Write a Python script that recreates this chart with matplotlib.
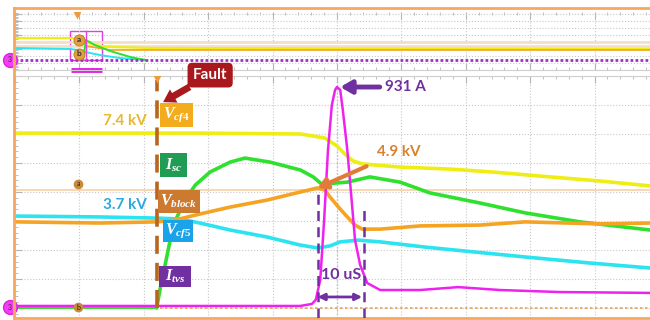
import matplotlib
matplotlib.use("Agg")
import matplotlib.pyplot as plt
from matplotlib.patches import Rectangle
from matplotlib.lines import Line2D
from matplotlib.ticker import MultipleLocator

# screen units: x and y in graticule divisions (main window, y=0 is the bottom line)
vcf4_x = [0, 1.32, 2.87, 4.43, 4.63, 4.81, 5.0, 5.12, 5.25, 5.39, 5.59, 5.98, 6.75, 7.41, 8.31, 9.08, 9.86]
vcf4_y = [6.03, 6.03, 6.03, 6.0, 5.93, 5.86, 5.59, 5.31, 5.07, 4.97, 4.93, 4.86, 4.79, 4.69, 4.52, 4.38, 4.21]

isc_x = [0, 2.18, 2.20, 2.25, 2.33, 2.41, 2.48, 2.64, 2.80, 3.03, 3.34, 3.57, 3.96, 4.43, 4.63, 4.78,
         4.97, 5.16, 5.51, 5.98, 6.44, 7.22, 7.92, 8.77, 9.86]
isc_y = [0.03, 0.03, 0.0, 0.62, 1.48, 2.34, 2.97, 3.72, 4.24, 4.69, 5.03, 5.17, 5.03, 4.76, 4.52, 4.24,
         4.31, 4.34, 4.52, 4.34, 3.97, 3.62, 3.28, 2.97, 2.69]

vblock_x = [0, 1.32, 2.20, 2.48, 2.87, 3.34, 3.91, 4.43, 4.70, 4.81, 4.89, 5.05, 5.16, 5.28, 5.39,
            5.67, 6.29, 7.22, 7.92, 9.08, 9.86]
vblock_y = [2.97, 2.93, 2.97, 3.03, 3.24, 3.48, 3.72, 4.0, 4.14, 4.07, 3.83, 3.41, 3.14, 2.86, 2.72,
            2.72, 2.83, 2.86, 2.97, 2.90, 2.93]

vcf5_x = [0, 1.32, 2.20, 2.56, 2.87, 3.34, 3.91, 4.43, 4.70, 4.89, 5.05, 5.33, 5.67, 6.37, 7.14, 7.92, 8.93, 9.86]
vcf5_y = [3.17, 3.14, 3.10, 3.07, 2.93, 2.69, 2.45, 2.17, 2.07, 2.14, 2.28, 2.34, 2.28, 2.10, 1.93, 1.76, 1.55, 1.38]

itvs_x = [0, 1.32, 2.87, 4.43, 4.61, 4.67, 4.74, 4.80, 4.86, 4.92, 4.97, 5.0, 5.05, 5.09, 5.16, 5.22,
          5.28, 5.36, 5.47, 5.67, 6.29, 6.88, 7.53, 8.46, 9.86]
itvs_y = [0.07, 0.07, 0.07, 0.07, 0.14, 0.28, 0.97, 3.03, 5.45, 7.0, 7.52, 7.62, 7.52, 6.83, 5.45, 3.90,
          2.34, 1.48, 0.86, 0.62, 0.62, 0.72, 0.62, 0.55, 0.52]

# overview (zoom-out) window, own division units
ov_yel_x = [0, 0.89, 1.01, 1.09, 1.24, 1.48, 2.10, 9.86]
ov_yel_y = [4.57, 4.57, 4.29, 4.0, 3.57, 3.29, 3.14, 3.0]
ov_cyan_x = [0, 0.85, 0.98, 1.09, 1.32, 1.63, 2.02]
ov_cyan_y = [3.14, 3.0, 2.86, 2.57, 2.14, 1.71, 1.43]
ov_green_x = [1.06, 1.10, 1.24, 1.48, 1.79, 2.02]
ov_green_y = [1.43, 4.29, 3.57, 2.71, 1.86, 1.43]
ov_orange_x = [1.10, 1.48, 9.86]
ov_orange_y = [3.43, 2.86, 2.86]

fault_x = 2.20
peak_x, peak_y = 5.0, 7.62
cross_x, cross_y = 4.70, 4.14
win_start, win_end = 4.70, 5.42

plt.rcParams['font.family'] = ['Lato', 'DejaVu Sans']
plt.rcParams['mathtext.fontset'] = 'custom'
plt.rcParams['mathtext.it'] = 'Liberation Serif:italic:bold'
plt.rcParams['mathtext.rm'] = 'Liberation Serif:bold'

ORANGE = '#F5A85E'
PURPLE = '#7030A0'
GRID = '#c8c8c8'

fig = plt.figure(figsize=(6.5, 3.2), dpi=100)
ax_ov = fig.add_axes([15/650, 1-70/320, 635/650, 58/320])
ax = fig.add_axes([15/650, 1-318/320, 635/650, 242/320])

# frame
fig.add_artist(Line2D([14/650, 14/650], [1-8/320, 1-318/320], color=ORANGE, lw=2))
fig.add_artist(Line2D([14/650, 1], [1-8/320, 1-8/320], color=ORANGE, lw=2))

for a in (ax, ax_ov):
    a.set_xlim(0, 9.86)
    a.xaxis.set_major_locator(MultipleLocator(1))
    a.xaxis.set_minor_locator(MultipleLocator(0.2))
    a.yaxis.set_major_locator(MultipleLocator(1))
    a.yaxis.set_minor_locator(MultipleLocator(0.2))
    a.tick_params(which='both', direction='in', top=True, bottom=True, left=True, right=False,
                  labelbottom=False, labelleft=False, color='#b5b5b5')
    a.tick_params(which='major', length=5, width=0.8)
    a.tick_params(which='minor', length=2.5, width=0.6)
    a.grid(True, which='major', ls=':', color=GRID, lw=0.8)
    a.spines['left'].set_visible(False)
    a.spines['right'].set_visible(False)
    a.set_facecolor('none')

ax.set_ylim(-0.345, 8.0)
ax.spines['top'].set_color('#cfcfcf')
ax.spines['top'].set_linewidth(0.8)
ax.spines['bottom'].set_color(ORANGE)
ax.spines['bottom'].set_linewidth(2)
ax.tick_params(which='both', bottom=False)

ax_ov.set_ylim(0, 8.29)
ax_ov.spines['top'].set_visible(False)
ax_ov.spines['bottom'].set_color('#cfcfcf')
ax_ov.spines['bottom'].set_linewidth(0.8)

# reference lines
ax.axvline(5, color='#bdbdbd', ls=':', lw=1)
ax.axhline(4.07, color='#F8CFA5', lw=1.2)
ax.axhline(0, color='#F0A050', ls=(0, (1.5, 1.5)), lw=1.2)

# traces
ax.plot(vcf4_x, vcf4_y, color='#EEEE14', lw=2.6, zorder=3)
ax.plot(isc_x, isc_y, color='#2FE02F', lw=2.6, zorder=3)
ax.plot(vcf5_x, vcf5_y, color='#2CE3F0', lw=2.6, zorder=3)
ax.plot(vblock_x, vblock_y, color='#F5A323', lw=2.6, zorder=3)
ax.plot(itvs_x, itvs_y, color='#EE22EE', lw=1.8, zorder=4)

# overview traces
ax_ov.axhline(4.0, color='#F2DFC6', lw=2)
ax_ov.axhline(3.43, color='#F2DFC6', lw=2)
ax_ov.plot(ov_yel_x, ov_yel_y, color='#EEEE14', lw=1.6)
ax_ov.plot(ov_orange_x, ov_orange_y, color='#F5A323', lw=1.2)
ax_ov.plot(ov_cyan_x, ov_cyan_y, color='#2CE3F0', lw=1.4)
ax_ov.plot(ov_green_x, ov_green_y, color='#2FE02F', lw=1.4)
ax_ov.axhline(1.43, color='#A030C8', ls=(0, (1, 0.8)), lw=2)
ax_ov.add_patch(Rectangle((0.85, 1.43), 0.5, 4.14, fill=False, ec='#E040E0', lw=1))
ax_ov.plot([1.10, 1.10], [1.43, 5.57], color='#E040E0', lw=1)
ax_ov.plot([0.87, 1.35], [0.05, 0.05], color='#E81CE8', lw=3.5, solid_capstyle='butt', clip_on=False)
ax_ov.plot(0.96, 7.86, 'v', ms=6, color='#F09A3A', mec='none')
for yy, lab in ((4.29, 'a'), (2.29, 'b')):
    ax_ov.plot(0.99, yy, 'o', ms=8, mfc='#E0A040', mec='#C07A20', mew=0.6, zorder=5)
    ax_ov.text(0.99, yy, lab, fontsize=6, ha='center', va='center', color='#333', fontweight='bold', zorder=6)
ax_ov.plot(-0.08, 1.43, 'o', ms=10, mfc='#F040F0', mec='#E020E0', clip_on=False, zorder=5)
ax_ov.text(-0.08, 1.43, '3', fontsize=5, ha='center', va='center', color='#333', zorder=6)

# main-window markers
for yy, lab in ((4.28, 'a'), (0.03, 'b')):
    ax.plot(0.98, yy, 'o', ms=7, mfc='#C98A3A', mec='none', zorder=5)
    ax.text(0.98, yy, lab, fontsize=5, ha='center', va='center', color='#222', zorder=6)
ax.plot(-0.08, 0.03, 'o', ms=10, mfc='#F040F0', mec='#E020E0', clip_on=False, zorder=5)
ax.text(-0.08, 0.03, '3', fontsize=5, ha='center', va='center', color='#333', zorder=6)

# fault line
ax.plot([fault_x, fault_x], [0, 7.86], color='#B8661E', lw=2.6, dashes=(5, 2.5), zorder=5)
ax.plot(fault_x, 7.9, 'v', ms=6, color='#F09A3A', mec='none', zorder=6)
ax.annotate('Fault', xy=(2.30, 7.10), xytext=(3.03, 8.03), fontsize=11, fontweight='bold',
            color='white', ha='center', va='center', annotation_clip=False, zorder=8,
            bbox=dict(boxstyle='round,pad=0.35,rounding_size=0.3', fc='#A8181C', ec='none'),
            arrowprops=dict(arrowstyle='simple,head_width=1.0,head_length=0.8,tail_width=0.45',
                            fc='#A8181C', ec='none', shrinkA=0, shrinkB=0))

# signal label boxes
boxes = [
    (r'$V_{cf4}$', 2.25, 6.24, 0.51, 0.83, '#F3AC1E'),
    (r'$I_{sc}$', 2.25, 4.52, 0.42, 0.83, '#1F9D55'),
    (r'$V_{block}$', 2.22, 3.28, 0.65, 0.79, '#CC7A30'),
    (r'$V_{cf5}$', 2.30, 2.28, 0.47, 0.76, '#1AA3E8'),
    (r'$I_{tvs}$', 2.24, 0.72, 0.50, 0.72, PURPLE),
]
for lab, x0, y0, w, h, c in boxes:
    ax.add_patch(Rectangle((x0, y0), w, h, fc=c, ec='none', zorder=7))
    ax.text(x0 + w/2, y0 + h/2, lab, color='white', fontsize=11.5, ha='center', va='center', zorder=8)

# value annotations
ax.text(2.05, 6.45, '7.4 kV', color='#E8B830', fontsize=11, fontweight='bold', ha='right', va='center', zorder=8)
ax.text(2.05, 3.55, '3.7 kV', color='#2BA8DF', fontsize=11, fontweight='bold', ha='right', va='center', zorder=8)
ax.annotate('4.9 kV', xy=(cross_x, cross_y), xytext=(5.62, 5.38), color='#D9822B', fontsize=11,
            fontweight='bold', ha='left', va='center', zorder=8,
            arrowprops=dict(arrowstyle='-|>,head_width=0.3,head_length=0.5', color='#E07B39', lw=3,
                            shrinkA=8, shrinkB=0))
ax.annotate('931 A', xy=(peak_x + 0.05, peak_y), xytext=(5.75, peak_y), color=PURPLE, fontsize=11,
            fontweight='bold', ha='left', va='center', zorder=8,
            arrowprops=dict(arrowstyle='-|>,head_width=0.35,head_length=0.6', color=PURPLE, lw=3.5,
                            shrinkA=2, shrinkB=0))

# 10 us window
ax.plot([win_start, win_start], [-0.345, 4.0], color=PURPLE, lw=1.8, dashes=(4, 2.5), zorder=5)
ax.plot([win_end, win_end], [-0.345, 3.55], color=PURPLE, lw=1.8, dashes=(4, 2.5), zorder=5)
ax.annotate('', xy=(win_start, 0.38), xytext=(win_end - 0.03, 0.38), zorder=8,
            arrowprops=dict(arrowstyle='<|-|>,head_width=0.2,head_length=0.4', color=PURPLE, lw=2,
                            shrinkA=0, shrinkB=0))
ax.text((win_start + win_end)/2, 1.14, '10 uS', color=PURPLE, fontsize=11.5, fontweight='bold',
        ha='center', va='center', zorder=8)

fig.savefig('out.png', dpi=100)
